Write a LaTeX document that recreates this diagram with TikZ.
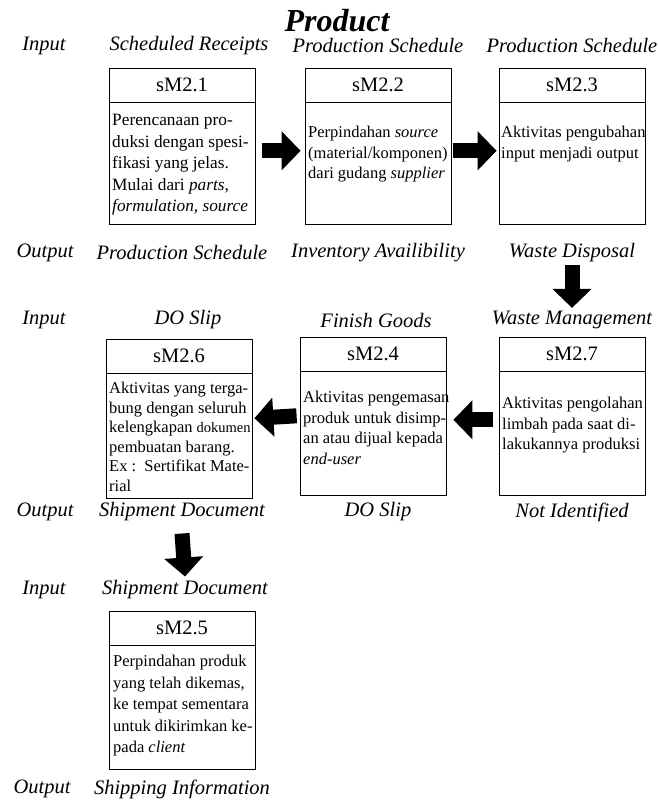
\documentclass[tikz,border=0pt]{standalone}
\usepackage{fontspec}
\setmainfont{Liberation Serif}
\usetikzlibrary{arrows.meta}
\begin{document}
\begin{tikzpicture}[x=1pt,y=-1pt,
  hdr/.style={draw, line width=0.8pt, minimum width=146pt, minimum height=34pt, inner sep=0pt, font=\fontsize{20.5}{24}\selectfont},
  bodybox/.style={draw, line width=0.8pt, minimum width=146pt, inner sep=0pt, anchor=north},
  btext/.style={anchor=north west, align=left, inner sep=0pt, font=\fontsize{16.5}{20.5}\selectfont},
  lbl/.style={inner sep=0pt, font=\fontsize{20.5}{24}\selectfont\itshape},
  blockarrow/.style={line width=15pt, -{Triangle[length=19pt,width=38pt]}}
]
\useasboundingbox (0,0) rectangle (657,800);
\node[font=\fontsize{32}{38}\selectfont\bfseries\itshape] (title) at (337,21) {Product};

% labels
\node[lbl] (in0) at (44,46) {Input};
\node[lbl] (il1) at (189,46) {Scheduled Receipts};
\node[lbl] (il2) at (378,46) {Production Schedule};
\node[lbl] (il3) at (572,46) {Production Schedule};
\node[lbl] (out0) at (45,253) {Output};
\node[lbl] (ol1) at (182,253) {Production Schedule};
\node[lbl] (ol2) at (378,253) {Inventory Availibility};
\node[lbl] (ol3) at (572,253) {Waste Disposal};
\node[lbl] (in1) at (44,320) {Input};
\node[lbl] (il6) at (188,320) {DO Slip};
\node[lbl] (il4) at (376,320) {Finish Goods};
\node[lbl] (il7) at (572,320) {Waste Management};
\node[lbl] (out1) at (45,512) {Output};
\node[lbl] (ol6) at (182,512) {Shipment Document};
\node[lbl] (ol4) at (378,512) {DO Slip};
\node[lbl] (ol7) at (572,512) {Not Identified};
\node[lbl] (in2) at (44,590) {Input};
\node[lbl] (il5) at (185,590) {Shipment Document};
\node[lbl] (out2) at (42,789) {Output};
\node[lbl] (ol5) at (182,789) {Shipping Information};

% row 1 boxes
\node[hdr] (h1) at (182,85) {sM2.1};
\node[bodybox, minimum height=122pt] (b1) at (h1.south) {};
\node[hdr] (h2) at (378,85) {sM2.2};
\node[bodybox, minimum height=122pt] (b2) at (h2.south) {};
\node[hdr] (h3) at (572,85) {sM2.3};
\node[bodybox, minimum height=122pt] (b3) at (h3.south) {};

% row 2 boxes
\node[hdr] (h6) at (179,356) {sM2.6};
\node[bodybox, minimum height=125pt] (b6) at (h6.south) {};
\node[hdr] (h4) at (373,354) {sM2.4};
\node[bodybox, minimum height=124pt] (b4) at (h4.south) {};
\node[hdr] (h7) at (572,354) {sM2.7};
\node[bodybox, minimum height=124pt] (b7) at (h7.south) {};

% row 3 box
\node[hdr] (h5) at (182,628) {sM2.5};
\node[bodybox, minimum height=124pt] (b5) at (h5.south) {};

% box texts
\node[btext, font=\fontsize{17.3}{21.5}\selectfont] (t1) at (112,114) {Perencanaan pro-\\duksi dengan spesi-\\fikasi yang jelas.\\Mulai dari \textit{parts,}\\\textit{formulation, source}};
\node[btext] (t2) at (308,126) {Perpindahan \textit{source}\\(material/komponen)\\dari gudang \textit{supplier}};
\node[btext] (t3) at (501,126) {Aktivitas pengubahan\\input menjadi output};
\node[btext, font=\fontsize{16.5}{19.5}\selectfont] (t6) at (109,382) {Aktivitas yang terga-\\bung dengan seluruh\\kelengkapan {\fontsize{14.5}{19.5}\selectfont dokumen}\\pembuatan barang.\\Ex :~~Sertifikat Mate-\\rial};
\node[btext] (t4) at (303,391) {Aktivitas pengemasan\\produk untuk disimp-\\an atau dijual kepada\\\textit{end-user}};
\node[btext] (t7) at (502,397) {Aktivitas pengolahan\\limbah pada saat di-\\lakukannya produksi};
\node[btext, font=\fontsize{16.5}{21.5}\selectfont] (t5) at (113,655) {Perpindahan produk\\yang telah dikemas,\\ke tempat sementara\\untuk dikirimkan ke-\\pada \textit{client}};

% arrows
\draw[blockarrow] ([xshift=7pt,yshift=13pt]b1.east) -- ([xshift=-4pt,yshift=13pt]b2.west);
\draw[blockarrow] ([xshift=2pt,yshift=13pt]b2.east) -- ([xshift=-2pt,yshift=13pt]b3.west);
\draw[blockarrow] ([yshift=-3pt]ol3.south) -- ([yshift=3pt]il7.north);
\draw[blockarrow] ([xshift=-6pt,yshift=14pt]b7.west) -- ([xshift=7pt,yshift=14pt]b4.east);
\draw[blockarrow] ([xshift=-3pt,yshift=18pt]b4.west) -- ([xshift=2pt,yshift=18pt]b6.east);
\draw[blockarrow] ([yshift=-12pt]ol6.south) -- ([yshift=4pt]il5.north);
\end{tikzpicture}
\end{document}
